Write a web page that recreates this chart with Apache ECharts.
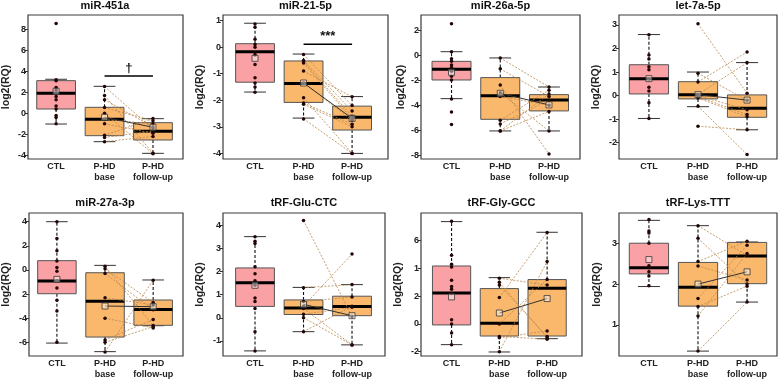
<!DOCTYPE html>
<html>
<head>
<meta charset="utf-8">
<script src="https://cdn.jsdelivr.net/npm/echarts@6/dist/echarts.min.js"></script>
<style>
  html, body { margin: 0; padding: 0; background: #fff; }
  #chart { width: 780px; height: 381px; }
</style>
</head>
<body>
<div id="chart"></div>
<script>
const titles = ['miR-451a', 'miR-21-5p', 'miR-26a-5p', 'let-7a-5p', 'miR-27a-3p', 'tRF-Glu-CTC', 'tRF-Gly-GCC', 'tRF-Lys-TTT']
const groups = ['CTL', 'P-HD\nbase', 'P-HD\nfollow-up']

// control samples
const ctlValues = [
  [8.55, 3.2, 3.1, 2.45, 2.2, 1.6, 1.3, 0.7, 0.4, -0.2, -0.4, -1.0],
  [0.87, 0.75, 0.3, 0.1, 0.0, -0.2, -0.3, -0.65, -1.15, -1.35, -1.5, -1.7],
  [2.5, 0.27, -0.3, -0.5, -0.8, -1.0, -1.3, -1.7, -2.0, -3.5, -4.55, -5.55],
  [2.58, 1.72, 1.55, 1.22, 1.1, 0.7, 0.35, 0.2, -0.3, -0.97],
  [4.0, 2.6, 1.6, 0.75, 0.2, -0.1, -0.9, -1.5, -2.5, -3.4, -6.0],
  [3.5, 3.3, 3.2, 2.2, 1.9, 1.6, 1.4, 0.85, 0.7, 0.4, -0.6, -1.43],
  [7.4, 4.95, 4.3, 4.1, 3.15, 2.7, 2.5, 2.2, 0.3, 0.0, -0.65, -1.5],
  [3.58, 3.3, 3.25, 3.0, 2.45, 2.4, 2.3, 2.2, 1.96]
]

// P-HD patients, same index = same patient at base and follow-up
const baseValues = [
  [2.55, 1.7, 1.3, 0.55, 0.0, -0.6, -1.0, -2.1, -2.3, -2.7],
  [-0.28, -0.5, -0.55, -0.6, -0.9, -1.35, -1.9, -2.1, -2.15, -2.7],
  [-0.23, -1.1, -2.4, -3.0, -3.3, -5.2, -5.5, -6.06, -6.06],
  [3.05, 0.95, 0.58, 0.05, 0.0, -0.05, -0.1, -0.45, -1.3],
  [0.3, 0.1, -0.3, -2.3, -4.0, -5.8, -6.0, -6.8],
  [4.2, 1.3, 0.7, 0.5, 0.4, 0.15, 0.0, -0.6],
  [3.3, 3.0, 2.8, 1.9, 0.0, -0.9, -1.0, -2.0],
  [3.43, 3.12, 2.55, 2.44, 1.65, 1.45, 1.22, 0.36]
]
const followValues = [
  [-1.5, -3.8, -1.3, -0.7, -3.85, -1.0, -1.9, -0.5, -1.7, -2.2],
  [-2.2, -2.4, -2.6, -2.7, -1.87, -2.75, -4.0, -2.9, -3.0, -4.0],
  [-2.55, -3.3, -7.9, -6.06, -4.0, -2.8, -3.6, -3.1, -4.5],
  [0.1, -0.2, 1.85, 1.4, -0.6, -0.8, -0.9, -2.5, -1.45],
  [-4.6, -2.7, -3.3, -2.9, -4.8, -4.1, -4.7, -0.85],
  [0.05, 1.43, 0.9, 2.75, -1.17, 0.45, -1.17, 0.5],
  [2.8, -1.0, -0.9, 6.6, 3.2, -1.1, -0.5, 4.5],
  [2.7, 2.0, 3.05, 2.1, 2.95, 1.95, 2.75, 1.56]
]

// [lower whisker, Q1, median, Q3, upper whisker] for CTL, base, follow-up
const boxStats = [
  [[-1.02, 0.41, 1.9, 3.11, 3.24], [-2.7, -2.13, -0.57, 0.57, 2.57], [-3.81, -2.54, -1.71, -0.89, -0.51]],
  [[-1.69, -1.32, -0.17, 0.13, 0.9], [-2.67, -2.08, -1.37, -0.52, -0.26], [-4.0, -3.12, -2.64, -2.22, -1.86]],
  [[-3.48, -1.99, -1.14, -0.5, 0.27], [-6.06, -5.13, -3.24, -1.8, -0.23], [-6.06, -4.46, -3.59, -3.16, -2.55]],
  [[-0.97, 0.07, 0.72, 1.31, 2.59], [-0.47, -0.14, 0.04, 0.59, 1.0], [-1.45, -0.92, -0.54, 0.03, 1.4]],
  [[-6.06, -1.97, -0.92, 0.77, 4.0], [-6.77, -5.56, -2.6, -0.23, 0.38], [-4.62, -4.59, -3.27, -2.49, -0.83]],
  [[-1.43, 0.49, 1.51, 2.15, 3.5], [-0.6, 0.14, 0.42, 0.77, 1.31], [-1.17, 0.09, 0.49, 0.93, 1.43]],
  [[-1.49, -0.07, 2.24, 4.18, 7.38], [-2.02, -0.87, 0.05, 2.55, 3.34], [-1.06, -0.87, 2.57, 3.2, 6.61]],
  [[1.94, 2.25, 2.4, 3.0, 3.56], [0.36, 1.46, 1.92, 2.53, 3.43], [1.56, 2.01, 2.69, 3.02, 3.03]]
]

// group means (open squares)
const groupMeans = [
  [2.1, -0.38, -1.33],
  [-0.42, -1.35, -2.68],
  [-1.38, -3.05, -3.98],
  [0.72, 0.04, -0.19],
  [-0.78, -2.99, -3.04],
  [1.4, 0.58, 0.09],
  [1.95, 0.79, 1.83],
  [2.6, 2.0, 2.3]
]

const yTicks = [
  [8, 6, 4, 2, 0, -2, -4],
  [1, 0, -1, -2, -3, -4],
  [2, 0, -2, -4, -6, -8],
  [3, 2, 1, 0, -1, -2],
  [4, 2, 0, -2, -4, -6],
  [4, 3, 2, 1, 0, -1],
  [6, 4, 2, 0, -2],
  [3, 2, 1]
]
const yTickLabels = [
  ['8', '6', '4', '2', '0', '-2', '-4'],
  ['1', '0', '-1', '-2', '-3', '-4'],
  ['2', '0', '-2', '-4', '-6', '-8'],
  ['3', '2', '1', '0', '-1', '-2'],
  ['4', '2', '0', '2', '-4', '-6'],
  ['4', '3', '2', '1', '0', '-1'],
  ['6', '1', '2', '0', '-2'],
  ['3', '2', '1']
]
const yRanges = [
  [-4.35, 9.36], [-4.21, 1.21], [-8.3, 3.2], [-2.69, 3.42],
  [-7.13, 4.72], [-1.65, 4.52], [-2.31, 8.0], [0.24, 3.74]
]

const sigMarks = [
  { panel: 0, from: 2, to: 3, y: 3.55, label: '†' },
  { panel: 1, from: 2, to: 3, y: 0.11, label: '***' }
]

// layout: [left, right, top, bottom, xMin, xMax, nameGap]
const frames = [
  [27, 183, 15, 159, 0.42, 3.62, 16],
  [223, 388, 15, 159, 0.34, 3.74, 17],
  [421, 580, 15, 159, 0.374, 3.636, 14],
  [619, 777, 15, 159, 0.39, 3.61, 17],
  [27, 183, 213, 356, 0.42, 3.62, 17],
  [223, 385, 213, 356, 0.34, 3.68, 17],
  [421, 582, 213, 356, 0.36, 3.73, 17],
  [619, 777, 213, 356, 0.39, 3.61, 16]
]

const FONT = 'Liberation Sans'
const ctlFill = '#F9A1A4'
const phdFill = '#FAB86C'

const chart = echarts.init(document.getElementById('chart'))

const grids = []
const xAxes = []
const yAxes = []
const series = []
const titleList = []

function tickLabel(i, v) {
  const k = yTicks[i].findIndex(t => Math.abs(t - v) < 1e-6)
  return k >= 0 ? yTickLabels[i][k] : ''
}

function renderBox(params, api) {
  const x = api.value(0)
  const lo = api.coord([x, api.value(1)])
  const q1 = api.coord([x, api.value(2)])
  const md = api.coord([x, api.value(3)])
  const q3 = api.coord([x, api.value(4)])
  const hi = api.coord([x, api.value(5)])
  const w = api.size([0.8, 0])[0]
  const cx = lo[0]
  const cap = w * 0.28
  const dashed = { stroke: '#111', lineWidth: 1.1, lineDash: [3, 2] }
  const solid = { stroke: '#333', lineWidth: 1 }
  return {
    type: 'group',
    children: [
      { type: 'line', shape: { x1: cx, y1: q1[1], x2: cx, y2: lo[1] }, style: dashed },
      { type: 'line', shape: { x1: cx, y1: q3[1], x2: cx, y2: hi[1] }, style: dashed },
      { type: 'line', shape: { x1: cx - cap, y1: lo[1], x2: cx + cap, y2: lo[1] }, style: solid },
      { type: 'line', shape: { x1: cx - cap, y1: hi[1], x2: cx + cap, y2: hi[1] }, style: solid },
      {
        type: 'rect',
        shape: { x: cx - w / 2, y: q3[1], width: w, height: q1[1] - q3[1] },
        style: { fill: x === 1 ? ctlFill : phdFill, stroke: '#555', lineWidth: 1 }
      },
      { type: 'line', shape: { x1: cx - w / 2, y1: md[1], x2: cx + w / 2, y2: md[1] }, style: { stroke: '#000', lineWidth: 3 } }
    ]
  }
}

function renderPair(params, api) {
  const a = api.coord([2, api.value(0)])
  const b = api.coord([3, api.value(1)])
  return {
    type: 'line',
    shape: { x1: a[0], y1: a[1], x2: b[0], y2: b[1] },
    style: { stroke: '#B7874C', lineWidth: 0.8, lineDash: [2, 1.5] }
  }
}

function renderSig(params, api) {
  const a = api.coord([api.value(0), api.value(2)])
  const b = api.coord([api.value(1), api.value(2)])
  return {
    type: 'group',
    children: [
      { type: 'line', shape: { x1: a[0], y1: a[1], x2: b[0], y2: b[1] }, style: { stroke: '#000', lineWidth: 1.4 } },
      {
        type: 'text',
        x: (a[0] + b[0]) / 2,
        y: a[1] - 1,
        style: { text: api.value(3), align: 'center', verticalAlign: 'bottom', fontSize: 13, fontWeight: 'bold', fontFamily: FONT, fill: '#111' }
      }
    ]
  }
}

frames.forEach((f, i) => {
  const [left, right, top, bottom, xMin, xMax, gap] = f

  grids.push({
    left, top, width: right - left, height: bottom - top,
    show: true, borderColor: '#3a3a3a', borderWidth: 1.2, backgroundColor: '#fff'
  })

  titleList.push({
    text: titles[i],
    left: (left + right) / 2,
    top: top === 15 ? 0 : 197,
    textAlign: 'center',
    padding: 0,
    textStyle: { fontSize: 11, fontWeight: 'bold', fontFamily: FONT, color: '#111' }
  })

  xAxes.push({
    type: 'value', gridIndex: i, min: xMin, max: xMax,
    axisLine: { show: false, onZero: false },
    axisTick: { show: false },
    splitLine: { show: false },
    axisLabel: {
      customValues: [1, 2, 3],
      formatter: v => groups[Math.round(v) - 1],
      margin: 2, fontSize: 9, lineHeight: 11, fontWeight: 'bold', fontFamily: FONT, color: '#222'
    }
  })

  yAxes.push({
    type: 'value', gridIndex: i, min: yRanges[i][0], max: yRanges[i][1],
    name: 'log2(RQ)', nameLocation: 'middle', nameGap: gap, nameRotate: 90,
    nameTextStyle: { fontSize: 10.5, fontWeight: 'bold', fontFamily: FONT, color: '#222' },
    axisLine: { show: false, onZero: false },
    axisTick: { show: true, customValues: yTicks[i], length: 3, lineStyle: { color: '#333', width: 1 } },
    splitLine: { show: false },
    axisLabel: {
      customValues: yTicks[i],
      formatter: v => tickLabel(i, v),
      margin: 2, fontSize: 9, fontWeight: 'bold', fontFamily: FONT, color: '#222'
    }
  })

  const axes = { xAxisIndex: i, yAxisIndex: i }

  series.push({
    type: 'custom', ...axes, z: 2, silent: true,
    data: boxStats[i].map((s, g) => [g + 1, ...s]),
    renderItem: renderBox
  })

  series.push({
    type: 'custom', ...axes, z: 3, silent: true,
    data: baseValues[i].map((b, k) => [b, followValues[i][k]]),
    encode: { x: -1, y: [0, 1] },
    renderItem: renderPair
  })

  series.push({
    type: 'scatter', ...axes, z: 4, silent: true,
    symbolSize: 3.5,
    itemStyle: { color: '#220606', opacity: 1 },
    data: [
      ...ctlValues[i].map(v => [1, v]),
      ...baseValues[i].map(v => [2, v]),
      ...followValues[i].map(v => [3, v])
    ]
  })

  series.push({
    type: 'line', ...axes, z: 5, silent: true,
    symbol: 'none',
    lineStyle: { color: '#333', width: 1 },
    data: [[2, groupMeans[i][1]], [3, groupMeans[i][2]]]
  })

  series.push({
    type: 'scatter', ...axes, z: 6, silent: true,
    symbol: 'rect', symbolSize: 6,
    itemStyle: { color: 'rgba(255,255,255,0.55)', borderColor: '#3a3a3a', borderWidth: 1 },
    data: groupMeans[i].map((m, g) => [g + 1, m])
  })
})

sigMarks.forEach(s => {
  series.push({
    type: 'custom', xAxisIndex: s.panel, yAxisIndex: s.panel, z: 7, silent: true,
    data: [[s.from, s.to, s.y, s.label]],
    dimensions: ['from', 'to', 'y', { name: 'label', type: 'ordinal' }],
    encode: { x: [0, 1], y: 2 },
    renderItem: renderSig
  })
})

chart.setOption({
  animation: false,
  backgroundColor: '#fff',
  title: titleList,
  grid: grids,
  xAxis: xAxes,
  yAxis: yAxes,
  series
})
</script>
</body>
</html>
